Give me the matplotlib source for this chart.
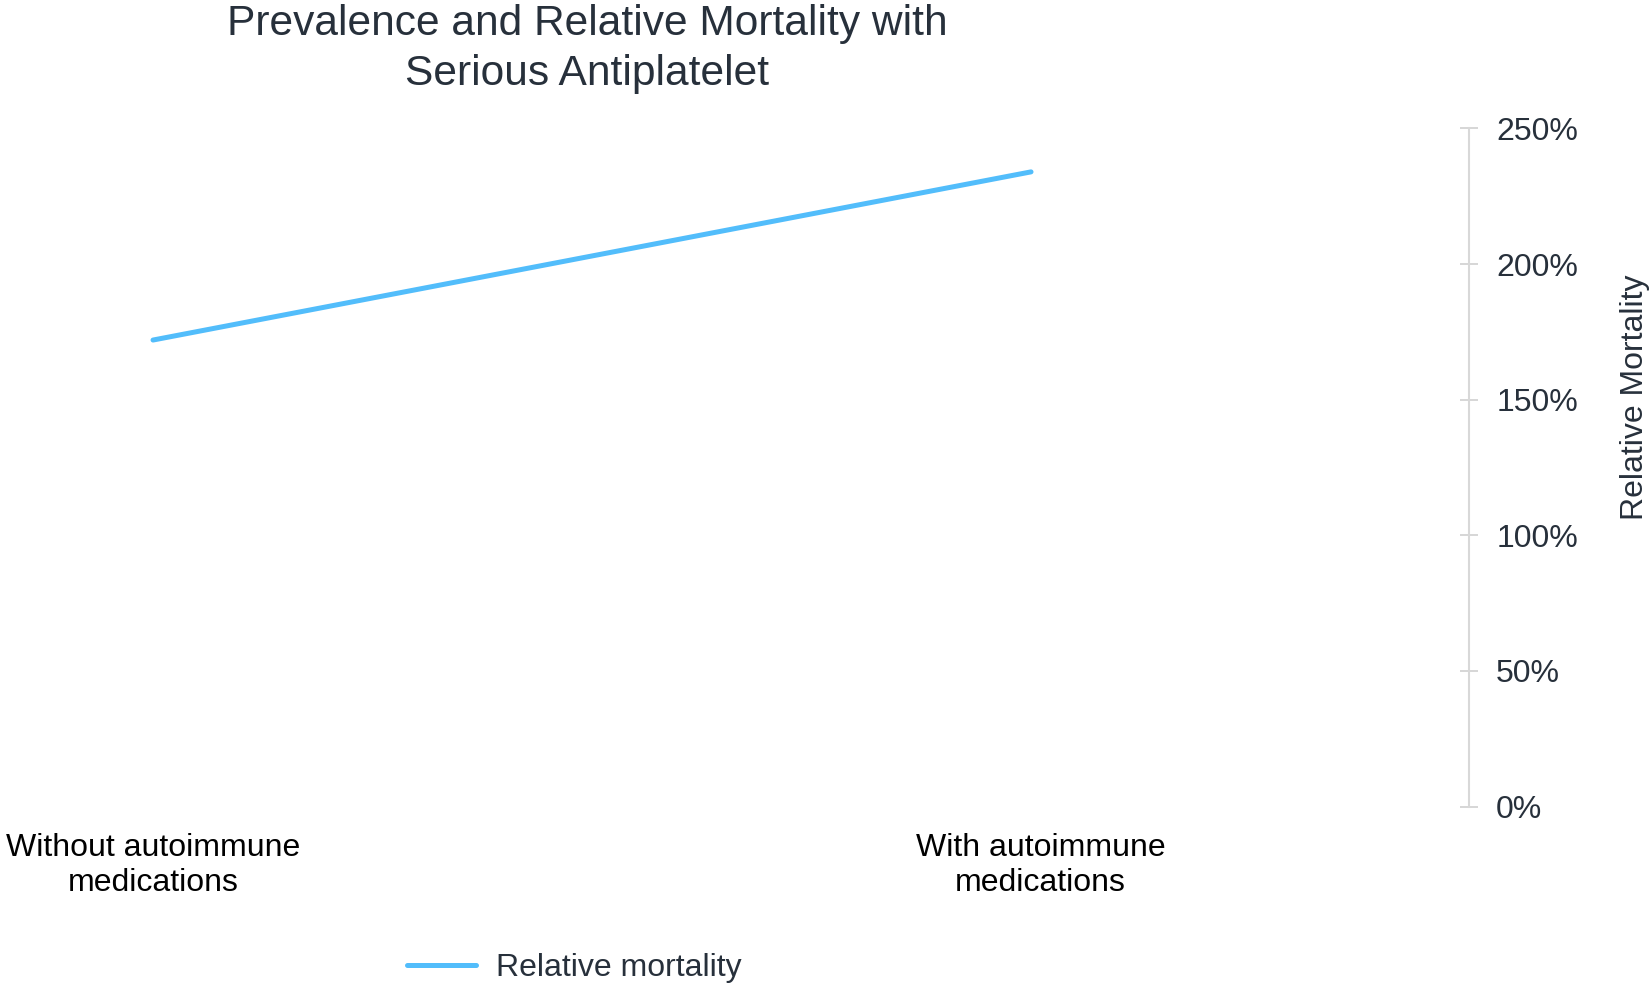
import matplotlib.pyplot as plt
import matplotlib.transforms as mtransforms
from matplotlib.ticker import FuncFormatter

plt.rcParams['font.family'] = ['Liberation Sans', 'DejaVu Sans']

categories = ["Without autoimmune\nmedications", "With autoimmune\nmedications"]
relative_mortality = [172, 234]  # percent
yticks = [0, 50, 100, 150, 200, 250]

line_color = '#52bdfb'
text_color = '#27303b'

fig = plt.figure(figsize=(16.51, 9.83), dpi=100)
ax = fig.add_axes([0.0, 0.1795, 0.8898, 0.6898])

x = range(len(categories))
ax.plot(x, relative_mortality, color=line_color, lw=3.6,
        solid_capstyle='round', label="Relative mortality")

ax.set_xlim(-0.1743, 1.4989)
ax.set_ylim(0, 250)

ax.yaxis.tick_right()
ax.set_yticks(yticks)
ax.yaxis.set_major_formatter(FuncFormatter(lambda v, p: f"{v:.0f}%"))
ax.tick_params(axis='y', direction='inout', length=13, width=1.2, color='#d0d0d0',
               pad=13, labelsize=23, labelcolor=text_color)

ax.set_xticks(list(x))
ax.set_xticklabels(categories, linespacing=1.21)
ax.tick_params(axis='x', length=0, pad=19, labelsize=23, labelcolor='black')
labels = ax.get_xticklabels()
for lbl in labels:
    lbl.set_multialignment('center')
# right label sits a little right of the last point in the original
labels[1].set_transform(labels[1].get_transform() +
                        mtransforms.ScaledTranslation(9.5 / 100, 0, fig.dpi_scale_trans))

for s in ['top', 'left', 'bottom']:
    ax.spines[s].set_visible(False)
ax.spines['right'].set_color('#d8d8d8')
ax.spines['right'].set_linewidth(1.5)

fig.text(0.3555, 1 - 48.7 / 983, "Prevalence and Relative Mortality with\nSerious Antiplatelet",
         ha='center', va='center', fontsize=30.6, color=text_color, linespacing=1.31)

fig.text(0.9905, 1 - 397 / 983, "Relative Mortality", rotation=90,
         ha='center', va='center', fontsize=23, color=text_color)

fig.legend(loc='center', bbox_to_anchor=(0.348, 0.0155), frameon=False,
           fontsize=23, handlelength=2.16, handletextpad=0.62,
           labelcolor=text_color)

plt.savefig("out.png", dpi=100)
